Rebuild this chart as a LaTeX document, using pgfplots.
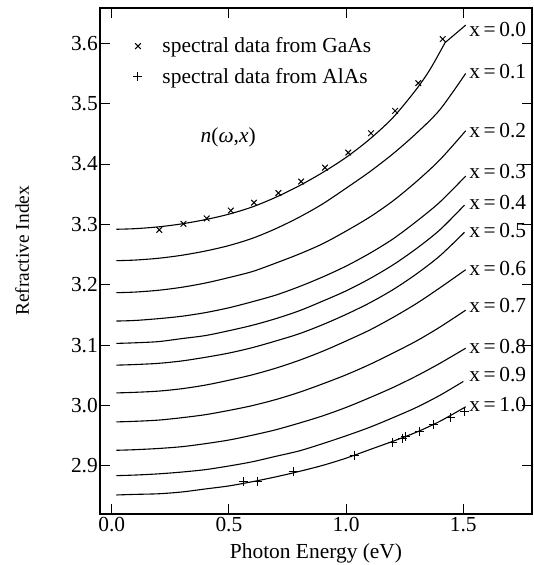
\documentclass[border=0pt]{standalone}
\usepackage{pgfplots}
\pgfplotsset{compat=1.18}
\usepackage{fontspec}
\setmainfont{Liberation Serif}
\newcommand{\lab}{\fontsize{21.5}{25}\selectfont}
\begin{document}
\begin{tikzpicture}[font=\lab]
\begin{axis}[
  scale only axis, width=432bp, height=506bp,
  xmin=-0.05, xmax=1.793, ymin=2.8205, ymax=3.6584,
  xtick={0,0.5,1,1.5}, xticklabels={0.0,0.5,1.0,1.5},
  ytick={2.9,3.0,3.1,3.2,3.3,3.4,3.5,3.6},
  yticklabels={2.9,3.0,3.1,3.2,3.3,3.4,3.5,3.6},
  /pgf/number format/assume math mode=true,
  tick align=inside, major tick length=10bp,
  tick style={black, line width=1bp},
  axis line style={line width=1.1bp},
  tick label style={font=\lab},
  xticklabel style={inner sep=3bp},
  yticklabel style={inner sep=2bp},
  xlabel={Photon Energy (eV)},
  ylabel={Refractive Index},
  xlabel style={at={(axis description cs:0.5,-0.058)}, anchor=north, inner sep=0pt},
  ylabel style={at={(axis description cs:-0.197,0.52)}, anchor=north, inner sep=0pt, font=\fontsize{19.5}{23}\selectfont},
  legend style={at={(axis cs:0.092,3.611)}, anchor=north west, draw=none, fill=none,
    inner sep=0pt, row sep=12bp, column sep=19bp, nodes={inner sep=1bp}, font=\lab},
  legend cell align=left,
]
% data marks
\addplot[only marks, mark=x, mark size=4bp, line width=1bp] coordinates {
(0.203,3.291) (0.306,3.301) (0.405,3.310) (0.508,3.323) (0.607,3.336) (0.711,3.352)
(0.808,3.371) (0.910,3.394) (1.009,3.419) (1.106,3.451) (1.209,3.488) (1.308,3.534) (1.412,3.607)};
\addlegendentry{spectral data from GaAs}
\addplot[only marks, mark=+, mark size=4.5bp, line width=1bp] coordinates {
(0.561,2.8735) (0.623,2.875) (0.775,2.8906) (1.034,2.9177) (1.196,2.939) (1.239,2.946)
(1.254,2.9485) (1.312,2.957) (1.372,2.968) (1.445,2.980) (1.504,2.991)};
\addlegendentry{spectral data from AlAs}
% model curves
\pgfplotsset{every axis plot/.append style={line width=1.1bp}}
\addplot[smooth, forget plot] coordinates {(0.02,3.292) (0.1,3.293) (0.2,3.296) (0.3,3.301) (0.4,3.308) (0.5,3.317) (0.6,3.329) (0.7,3.345) (0.8,3.364) (0.9,3.386) (1.0,3.411) (1.1,3.441) (1.2,3.477) (1.3,3.524) (1.36,3.558) (1.422,3.601)};
\addplot[forget plot] coordinates {(1.422,3.601) (1.51,3.630)};
\addplot[smooth, forget plot] coordinates {(0.02,3.240) (0.1,3.241) (0.2,3.244) (0.3,3.249) (0.4,3.256) (0.5,3.265) (0.6,3.277) (0.7,3.293) (0.8,3.312) (0.9,3.334) (1.0,3.360) (1.1,3.387) (1.2,3.417) (1.3,3.451) (1.4,3.490) (1.51,3.550)};
\addplot[smooth, forget plot] coordinates {(0.02,3.187) (0.1,3.188) (0.2,3.191) (0.3,3.196) (0.4,3.203) (0.5,3.212) (0.6,3.222) (0.7,3.236) (0.8,3.251) (0.9,3.268) (1.0,3.289) (1.1,3.312) (1.2,3.339) (1.3,3.371) (1.4,3.407) (1.51,3.455)};
\addplot[smooth, forget plot] coordinates {(0.02,3.140) (0.1,3.141) (0.2,3.144) (0.3,3.148) (0.4,3.154) (0.5,3.162) (0.6,3.172) (0.7,3.183) (0.8,3.197) (0.9,3.213) (1.0,3.231) (1.1,3.252) (1.2,3.276) (1.3,3.305) (1.4,3.337) (1.51,3.380)};
\addplot[smooth, forget plot] coordinates {(0.02,3.103) (0.1,3.104) (0.2,3.106) (0.3,3.111) (0.4,3.116) (0.5,3.124) (0.6,3.133) (0.7,3.144) (0.8,3.157) (0.9,3.173) (1.0,3.190) (1.1,3.210) (1.2,3.233) (1.3,3.260) (1.4,3.291) (1.505,3.332)};
\addplot[smooth, forget plot] coordinates {(0.02,3.067) (0.1,3.068) (0.2,3.070) (0.3,3.074) (0.4,3.080) (0.5,3.087) (0.6,3.096) (0.7,3.107) (0.8,3.119) (0.9,3.134) (1.0,3.151) (1.1,3.170) (1.2,3.192) (1.3,3.218) (1.4,3.248) (1.505,3.287)};
\addplot[smooth, forget plot] coordinates {(0.02,3.021) (0.1,3.022) (0.2,3.024) (0.3,3.028) (0.4,3.034) (0.5,3.042) (0.6,3.051) (0.7,3.062) (0.8,3.075) (0.9,3.090) (1.0,3.107) (1.1,3.125) (1.2,3.146) (1.3,3.169) (1.4,3.195) (1.51,3.225)};
\addplot[smooth, forget plot] coordinates {(0.02,2.973) (0.1,2.974) (0.2,2.976) (0.3,2.980) (0.4,2.985) (0.5,2.992) (0.6,3.000) (0.7,3.010) (0.8,3.022) (0.9,3.036) (1.0,3.051) (1.1,3.068) (1.2,3.087) (1.3,3.107) (1.4,3.130) (1.51,3.158)};
\addplot[smooth, forget plot] coordinates {(0.02,2.926) (0.1,2.927) (0.2,2.929) (0.3,2.932) (0.4,2.937) (0.5,2.943) (0.6,2.951) (0.7,2.960) (0.8,2.971) (0.9,2.983) (1.0,2.997) (1.1,3.013) (1.2,3.030) (1.3,3.049) (1.4,3.070) (1.51,3.095)};
\addplot[smooth, forget plot] coordinates {(0.02,2.884) (0.1,2.885) (0.2,2.887) (0.3,2.890) (0.4,2.894) (0.5,2.900) (0.6,2.907) (0.7,2.916) (0.8,2.925) (0.9,2.937) (1.0,2.950) (1.1,2.964) (1.2,2.980) (1.3,2.997) (1.4,3.017) (1.50,3.040)};
\addplot[smooth, forget plot] coordinates {(0.02,2.852) (0.1,2.853) (0.2,2.854) (0.3,2.857) (0.4,2.862) (0.5,2.867) (0.6,2.874) (0.7,2.882) (0.8,2.891) (0.9,2.901) (1.0,2.913) (1.1,2.927) (1.2,2.941) (1.3,2.956) (1.4,2.974) (1.51,2.998)};
% curve labels
\node[anchor=west, inner sep=0pt] at (axis cs:1.525,3.623) {x\,=\,0.0};
\node[anchor=west, inner sep=0pt] at (axis cs:1.525,3.554) {x\,=\,0.1};
\node[anchor=west, inner sep=0pt] at (axis cs:1.525,3.456) {x\,=\,0.2};
\node[anchor=west, inner sep=0pt] at (axis cs:1.525,3.388) {x\,=\,0.3};
\node[anchor=west, inner sep=0pt] at (axis cs:1.525,3.336) {x\,=\,0.4};
\node[anchor=west, inner sep=0pt] at (axis cs:1.525,3.290) {x\,=\,0.5};
\node[anchor=west, inner sep=0pt] at (axis cs:1.525,3.227) {x\,=\,0.6};
\node[anchor=west, inner sep=0pt] at (axis cs:1.525,3.166) {x\,=\,0.7};
\node[anchor=west, inner sep=0pt] at (axis cs:1.525,3.097) {x\,=\,0.8};
\node[anchor=west, inner sep=0pt] at (axis cs:1.525,3.051) {x\,=\,0.9};
\node[anchor=west, inner sep=0pt] at (axis cs:1.525,3.001) {x\,=\,1.0};
\node at (axis cs:0.497,3.445) {\textit{n}(\textit{ω},\textit{x})};
\end{axis}
\pgfresetboundingbox
\path[use as bounding box] ([shift={(-100bp,-51bp)}]current axis.south west) rectangle ([shift={(2bp,8bp)}]current axis.north east);
\end{tikzpicture}
\end{document}
